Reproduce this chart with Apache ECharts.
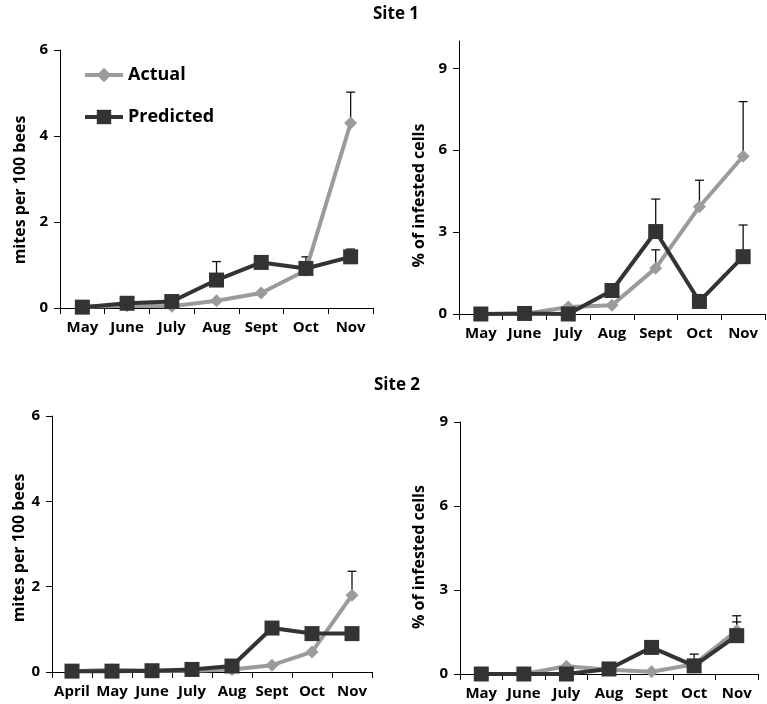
<!DOCTYPE html>
<html>
<head>
<meta charset="utf-8">
<script src="https://cdn.jsdelivr.net/npm/echarts@6/dist/echarts.min.js"></script>
<style>html,body{margin:0;padding:0;background:#fff}#c{width:767px;height:704px}</style>
</head>
<body>
<div id="c"></div>
<script>
// ---- data ----
const monthsSite1 = ['May', 'June', 'July', 'Aug', 'Sept', 'Oct', 'Nov'];
const monthsSite2Mites = ['April', 'May', 'June', 'July', 'Aug', 'Sept', 'Oct', 'Nov'];
const monthsSite2Cells = ['May', 'June', 'July', 'Aug', 'Sept', 'Oct', 'Nov'];

const s1MitesActual    = [0.03, 0.05, 0.04, 0.17, 0.35, 0.88, 4.30];
const s1MitesPredicted = [0.02, 0.11, 0.15, 0.65, 1.06, 0.92, 1.19];
const s1MitesActualErrTop    = [null, null, null, null, null, null, 5.02];
const s1MitesPredictedErrTop = [null, null, null, 1.08, null, 1.19, 1.37];

const s1CellsActual    = [0, 0, 0.26, 0.32, 1.68, 3.93, 5.78];
const s1CellsPredicted = [0, 0.02, 0, 0.86, 3.02, 0.46, 2.10];
const s1CellsActualErrTop    = [null, null, null, null, 2.35, 4.90, 7.78];
const s1CellsPredictedErrTop = [null, null, null, null, 4.21, null, 3.26];

const s2MitesActual    = [0.02, 0.05, 0.03, 0.03, 0.06, 0.16, 0.47, 1.80];
const s2MitesPredicted = [0.02, 0.02, 0.03, 0.06, 0.14, 1.03, 0.90, 0.90];
const s2MitesActualErrTop    = [null, null, null, null, null, null, null, 2.36];
const s2MitesPredictedErrTop = [null, null, null, null, null, null, null, null];

const s2CellsActual    = [0, 0, 0.28, 0.15, 0.08, 0.35, 1.55];
const s2CellsPredicted = [0, 0, 0, 0.18, 0.95, 0.29, 1.37];
const s2CellsActualErrTop    = [null, null, null, null, null, 0.71, 2.08];
const s2CellsPredictedErrTop = [null, null, null, null, null, null, 1.86];

const mitesTicks = [0, 2, 4, 6];
const cellsTicks = [0, 3, 6, 9];
// ---- end data ----

const FONT = '"Open Sans"';
const ACT = '#9b9b9b';
const PRED = '#333333';

function errData(vals, tops) {
  const out = [];
  tops.forEach((t, i) => { if (t != null) out.push([i, vals[i], t]); });
  return out;
}

function renderErr(params, api) {
  const x = api.value(0);
  const p0 = api.coord([x, api.value(1)]);
  const p1 = api.coord([x, api.value(2)]);
  const st = { stroke: '#111', lineWidth: 1.3 };
  return {
    type: 'group',
    children: [
      { type: 'line', shape: { x1: p0[0], y1: p0[1], x2: p1[0], y2: p1[1] }, style: st },
      { type: 'line', shape: { x1: p1[0] - 4.5, y1: p1[1], x2: p1[0] + 4.5, y2: p1[1] }, style: st }
    ]
  };
}

const grids = [
  { left: 60, top: 50, width: 313, height: 258 },
  { left: 459, top: 41, width: 306, height: 273 },
  { left: 52, top: 416, width: 320, height: 256 },
  { left: 460, top: 422, width: 298, height: 252 }
];

function xAxis(idx, cats) {
  return {
    type: 'category', gridIndex: idx, data: cats, boundaryGap: true,
    axisLine: { show: true, lineStyle: { color: '#000', width: 1 } },
    axisTick: { show: true, length: 6, lineStyle: { color: '#000' } },
    axisLabel: { interval: 0, color: '#000', fontFamily: FONT, fontWeight: 'bold', fontSize: 15, margin: 12 },
    splitLine: { show: false }
  };
}

function yAxis(idx, max, interval, ticks, name, gap, shift) {
  return {
    type: 'value', gridIndex: idx, min: 0, max: max, interval: interval,
    name: name, nameLocation: 'middle', nameGap: gap,
    nameTextStyle: { color: '#000', fontFamily: FONT, fontWeight: 'bold', fontSize: 16, padding: [0, shift, 0, 0] },
    axisLine: { show: true, lineStyle: { color: '#000', width: 1 } },
    axisTick: { show: true, length: 6, lineStyle: { color: '#000' }, customValues: ticks },
    axisLabel: { color: '#000', fontFamily: FONT, fontWeight: 'bold', fontSize: 15, margin: 12, customValues: ticks },
    splitLine: { show: false }
  };
}

function lineSeries(name, idx, data, isPred) {
  return {
    name: name, type: 'line', xAxisIndex: idx, yAxisIndex: idx, data: data,
    symbol: isPred ? 'rect' : 'diamond', symbolSize: isPred ? 15 : 13,
    lineStyle: { color: isPred ? PRED : ACT, width: 4 },
    itemStyle: { color: isPred ? PRED : ACT },
    z: isPred ? 4 : 3, animation: false
  };
}

function errSeries(idx, vals, tops) {
  return {
    type: 'custom', xAxisIndex: idx, yAxisIndex: idx,
    data: errData(vals, tops), renderItem: renderErr,
    encode: { x: 0, y: [1, 2] }, z: 2, silent: true, animation: false
  };
}

const option = {
  backgroundColor: '#fff',
  animation: false,
  title: [
    { text: 'Site 1', left: 391, top: 1, textAlign: 'center', textStyle: { fontFamily: FONT, fontWeight: 'bold', fontSize: 17, color: '#000' } },
    { text: 'Site 2', left: 392, top: 372, textAlign: 'center', textStyle: { fontFamily: FONT, fontWeight: 'bold', fontSize: 17, color: '#000' } }
  ],
  legend: {
    data: ['Actual', 'Predicted'], orient: 'vertical', left: 78, top: 60,
    itemWidth: 38, itemHeight: 18, itemGap: 22,
    lineStyle: { width: 4 },
    textStyle: { fontFamily: FONT, fontWeight: 'bold', fontSize: 18, lineHeight: 20, color: '#000' }
  },
  grid: grids,
  xAxis: [xAxis(0, monthsSite1), xAxis(1, monthsSite1), xAxis(2, monthsSite2Mites), xAxis(3, monthsSite2Cells)],
  yAxis: [
    yAxis(0, 6, 2, mitesTicks, 'mites per 100 bees', 32, 22),
    yAxis(1, 10, 1, cellsTicks, '% of infested cells', 32, 36),
    yAxis(2, 6, 2, mitesTicks, 'mites per 100 bees', 24, 8),
    yAxis(3, 9, 3, cellsTicks, '% of infested cells', 33, 18)
  ],
  series: [
    errSeries(0, s1MitesActual, s1MitesActualErrTop),
    errSeries(0, s1MitesPredicted, s1MitesPredictedErrTop),
    lineSeries('Actual', 0, s1MitesActual, false),
    lineSeries('Predicted', 0, s1MitesPredicted, true),
    errSeries(1, s1CellsActual, s1CellsActualErrTop),
    errSeries(1, s1CellsPredicted, s1CellsPredictedErrTop),
    lineSeries('Actual', 1, s1CellsActual, false),
    lineSeries('Predicted', 1, s1CellsPredicted, true),
    errSeries(2, s2MitesActual, s2MitesActualErrTop),
    errSeries(2, s2MitesPredicted, s2MitesPredictedErrTop),
    lineSeries('Actual', 2, s2MitesActual, false),
    lineSeries('Predicted', 2, s2MitesPredicted, true),
    errSeries(3, s2CellsActual, s2CellsActualErrTop),
    errSeries(3, s2CellsPredicted, s2CellsPredictedErrTop),
    lineSeries('Actual', 3, s2CellsActual, false),
    lineSeries('Predicted', 3, s2CellsPredicted, true)
  ]
};

const chart = echarts.init(document.getElementById('c'), null, { renderer: 'canvas' });
chart.setOption(option);
</script>
</body>
</html>
